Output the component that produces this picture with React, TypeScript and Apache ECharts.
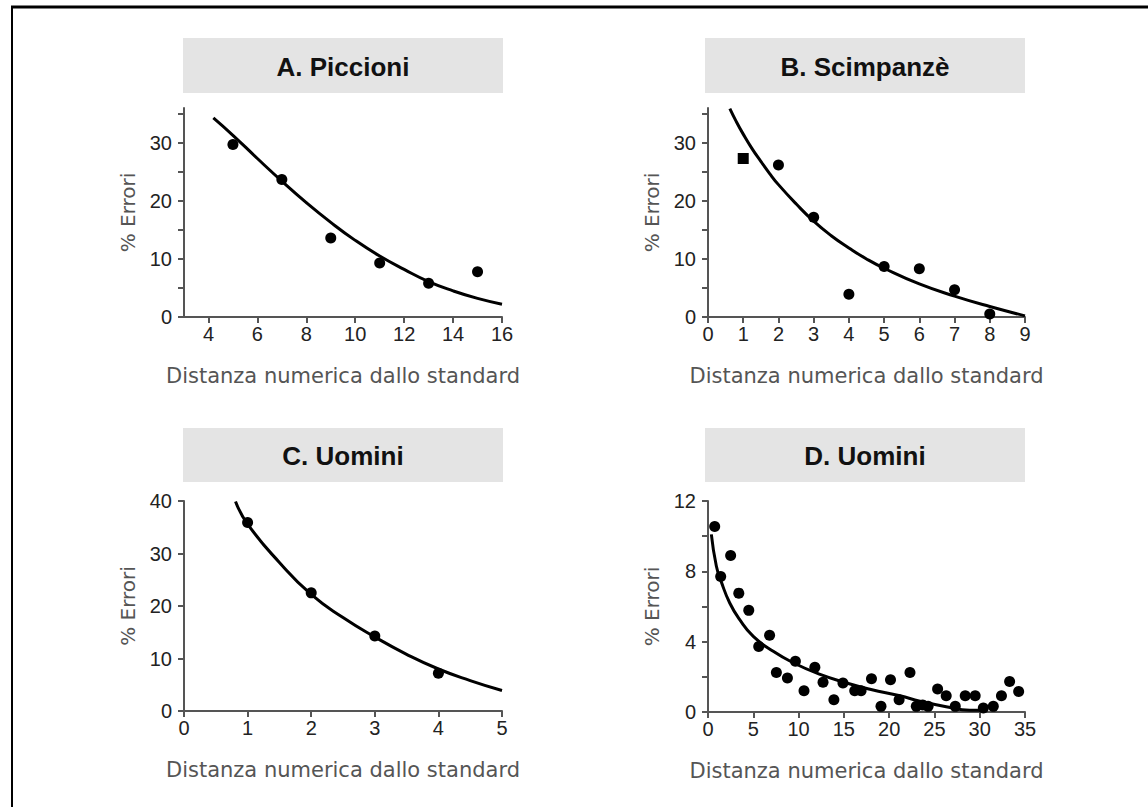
import React, { useEffect, useRef } from "react";
import * as echarts from "echarts";

// ---------- DATA ----------
const titles = ["A. Piccioni", "B. Scimpanzè", "C. Uomini", "D. Uomini"];
const xAxisTitle = "Distanza numerica dallo standard";
const yAxisTitle = "% Errori";

// Panel A
const aPoints = [[5, 29.7], [7, 23.7], [9, 13.6], [11, 9.3], [13, 5.8], [15, 7.8]];
const aCurve = [[4.2, 34.3], [5, 31.3], [6, 27.3], [7, 23.4], [8, 19.7], [9, 16.3], [10, 13.2], [11, 10.5], [12, 8.2], [13, 6.1], [14, 4.5], [15, 3.2], [16, 2.2]];
const aXTicks = [4, 6, 8, 10, 12, 14, 16];
const aYTicks = [0, 5, 10, 15, 20, 25, 30, 35];
const aYLabels = [0, 10, 20, 30];

// Panel B
const bSquare = [[1, 27.3]];
const bPoints = [[2, 26.2], [3, 17.2], [4, 3.9], [5, 8.7], [6, 8.3], [7, 4.7], [8, 0.5]];
const bCurve = [[0.62, 35.9], [0.8, 33.7], [1, 31.5], [1.25, 29.0], [1.5, 26.8], [1.75, 24.7], [2, 22.8], [2.5, 19.5], [3, 16.5], [3.5, 14.0], [4, 11.9], [4.5, 10.0], [5, 8.4], [6, 5.7], [7, 3.6], [8, 1.8], [9, 0.2]];
const bXTicks = [0, 1, 2, 3, 4, 5, 6, 7, 8, 9];
const bYTicks = [0, 5, 10, 15, 20, 25, 30, 35];
const bYLabels = [0, 10, 20, 30];

// Panel C
const cPoints = [[1, 35.9], [2, 22.5], [3, 14.3], [4, 7.2]];
const cCurve = [[0.81, 39.9], [1, 35.6], [1.5, 28.3], [2, 22.2], [2.5, 17.8], [3, 14.1], [3.5, 10.8], [4, 8.0], [4.5, 5.8], [5, 3.9]];
const cXTicks = [0, 1, 2, 3, 4, 5];
const cYTicks = [0, 10, 20, 30, 40];

// Panel D
const dPoints = [
  [0.74, 10.55], [1.4, 7.7], [2.5, 8.9], [3.4, 6.76], [4.5, 5.78], [5.6, 3.73], [6.8, 4.36],
  [7.55, 2.25], [8.77, 1.93], [9.65, 2.88], [10.6, 1.21], [11.8, 2.54], [12.7, 1.69], [13.9, 0.7],
  [14.9, 1.65], [16.2, 1.21], [16.9, 1.21], [18.05, 1.89], [19.1, 0.32], [20.15, 1.84], [21.1, 0.7],
  [22.3, 2.25], [23.0, 0.32], [23.7, 0.4], [24.3, 0.32], [25.35, 1.31], [26.3, 0.93], [27.3, 0.32],
  [28.4, 0.93], [29.5, 0.93], [30.4, 0.23], [31.5, 0.32], [32.4, 0.93], [33.3, 1.74], [34.3, 1.17],
];
const dCurve = [[0.37, 10.1], [0.92, 8.3], [1.47, 7.4], [2.4, 6.2], [3.5, 5.25], [5, 4.3], [7.2, 3.45], [9.4, 2.8], [12.3, 2.15], [15.3, 1.65], [18, 1.28], [21.2, 0.92], [23.4, 0.62], [26.3, 0.3], [28.9, 0.1], [30.5, 0.1]];
const dXTicks = [0, 5, 10, 15, 20, 25, 30, 35];
const dYTicks = [0, 2, 4, 6, 8, 10, 12];
const dYLabels = [0, 4, 8, 12];

const AXIS_COLOR = "#555";
const TICK_FONT = "'Liberation Sans', Arial, sans-serif";
const NAME_FONT = "'DejaVu Sans', sans-serif";

function makeX(idx: number, min: number, max: number, ticks: number[]) {
  return {
    type: "value", gridIndex: idx, min, max,
    name: xAxisTitle, nameLocation: "middle", nameGap: 48,
    nameTextStyle: { color: "#555", fontSize: 21, fontFamily: NAME_FONT },
    axisLine: { show: true, onZero: false, lineStyle: { color: AXIS_COLOR, width: 2 } },
    axisTick: { show: true, length: 6, customValues: ticks, lineStyle: { color: AXIS_COLOR, width: 2 } },
    axisLabel: { customValues: ticks, color: "#222", fontSize: 20, fontFamily: TICK_FONT, margin: 7 },
    splitLine: { show: false },
  };
}
function makeY(idx: number, min: number, max: number, ticks: number[], labels: number[]) {
  return {
    type: "value", gridIndex: idx, min, max,
    name: yAxisTitle, nameLocation: "middle", nameGap: 46, nameRotate: 90,
    nameTextStyle: { color: "#555", fontSize: 20, fontFamily: NAME_FONT },
    axisLine: { show: true, onZero: false, lineStyle: { color: AXIS_COLOR, width: 2 } },
    axisTick: { show: true, length: 6, customValues: ticks, lineStyle: { color: AXIS_COLOR, width: 2 } },
    axisLabel: { customValues: labels, color: "#222", fontSize: 20, fontFamily: TICK_FONT, margin: 12 },
    splitLine: { show: false },
  };
}
function scatter(idx: number, data: number[][], symbol = "circle") {
  return {
    type: "scatter", xAxisIndex: idx, yAxisIndex: idx, data, symbol, symbolSize: 11,
    itemStyle: { color: "#000", opacity: 1 }, z: 3,
  };
}
function curve(idx: number, data: number[][]) {
  return {
    type: "line", xAxisIndex: idx, yAxisIndex: idx, data, smooth: true, showSymbol: false,
    lineStyle: { color: "#000", width: 3 }, z: 2,
  };
}

const boxes = [
  { x: 183, y: 38, w: 320, h: 55 },
  { x: 705, y: 38, w: 320, h: 55 },
  { x: 183, y: 428, w: 320, h: 54 },
  { x: 705, y: 428, w: 320, h: 54 },
];

export default function App() {
  const ref = useRef<HTMLDivElement>(null);
  useEffect(() => {
    if (!ref.current) return;
    const chart = echarts.init(ref.current, null, { renderer: "svg" });
    const graphics: any[] = [];
    boxes.forEach((b, i) => {
      graphics.push({ type: "rect", shape: { x: b.x, y: b.y, width: b.w, height: b.h }, style: { fill: "#e4e4e4" }, silent: true });
      graphics.push({
        type: "text", x: b.x + b.w / 2, y: b.y + b.h / 2 + 1,
        style: { text: titles[i], fill: "#111", font: "bold 26px 'Liberation Sans', Arial, sans-serif", align: "center", verticalAlign: "middle" },
        silent: true,
      });
    });
    graphics.push({ type: "line", shape: { x1: 11, y1: 7, x2: 1148, y2: 7 }, style: { stroke: "#000", lineWidth: 3 } });
    graphics.push({ type: "line", shape: { x1: 12, y1: 6, x2: 12, y2: 807 }, style: { stroke: "#000", lineWidth: 2 } });

    chart.setOption({
      animation: false,
      backgroundColor: "#fff",
      grid: [
        { left: 184, top: 108, width: 318, height: 209 },
        { left: 708, top: 108, width: 317, height: 209 },
        { left: 184, top: 501, width: 318, height: 210 },
        { left: 708, top: 501, width: 317, height: 211 },
      ],
      xAxis: [
        makeX(0, 3, 16, aXTicks),
        makeX(1, 0, 9, bXTicks),
        makeX(2, 0, 5, cXTicks),
        makeX(3, 0, 35, dXTicks),
      ],
      yAxis: [
        makeY(0, 0, 36, aYTicks, aYLabels),
        makeY(1, 0, 36, bYTicks, bYLabels),
        makeY(2, 0, 40, cYTicks, cYTicks),
        makeY(3, 0, 12, dYTicks, dYLabels),
      ],
      series: [
        curve(0, aCurve), scatter(0, aPoints),
        curve(1, bCurve), scatter(1, bSquare, "rect"), scatter(1, bPoints),
        curve(2, cCurve), scatter(2, cPoints),
        curve(3, dCurve), scatter(3, dPoints),
      ],
      graphic: graphics,
    });
    return () => chart.dispose();
  }, []);
  return <div ref={ref} style={{ position: "fixed", left: 0, top: 0, width: 1148, height: 807 }} />;
}
